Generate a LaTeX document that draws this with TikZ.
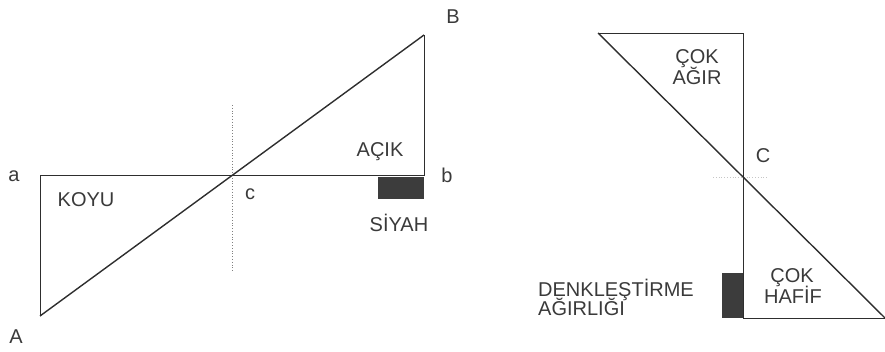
\documentclass[tikz,border=0pt]{standalone}
\usepackage{fontspec}
\setmainfont{Liberation Sans}
\definecolor{linec}{HTML}{2E2E2E}
\definecolor{textc}{HTML}{3A3A3A}
\definecolor{weightc}{HTML}{3C3C3C}
\begin{document}
\begin{tikzpicture}[x=1pt,y=-1pt,
  frame/.style={draw=linec, line width=0.9pt, line join=miter},
  beam/.style={draw=linec, line width=1.4pt},
  lbl/.style={font=\fontsize{20}{20}\selectfont, text=textc, inner sep=0pt, anchor=base},
  wt/.style={fill=weightc, draw=none},
  guide/.style={draw=gray, line width=0.8pt, dotted}]
\useasboundingbox (0,0) rectangle (885,352);
% ---------- left figure ----------
\coordinate (A) at (40,316);
\coordinate (a) at (40,175);
\coordinate (b) at (424,175);
\coordinate (B) at (424,35);
\coordinate (c) at (232.5,175);
\coordinate (gtop) at (232,105);
\coordinate (gbot) at (232,272);
\coordinate (s1) at (378,177);
\coordinate (s2) at (424,199);
\draw[guide] (gtop) -- (gbot);
\draw[frame] (A) -- (a) -- (b) -- (B);
\draw[beam] (A) -- (B);
\fill[wt] (s1) rectangle (s2);
\node[lbl] (la) at (14,182) {a};
\node[lbl] (lb) at (447,183) {b};
\node[lbl] (lA) at (16,343) {A};
\node[lbl] (lB) at (453,24) {B};
\node[lbl] (lc) at (250,200) {c};
\node[lbl] (koyu) at (86,207) {KOYU};
\node[lbl] (acik) at (380,157) {AÇIK};
\node[lbl] (siyah) at (399,232) {SİYAH};
% ---------- right figure ----------
\coordinate (P) at (598,33);
\coordinate (Q) at (743,33);
\coordinate (R) at (743,318);
\coordinate (S) at (885,318);
\coordinate (C) at (743,177);
\coordinate (h1) at (713,177);
\coordinate (h2) at (767,177);
\coordinate (d1) at (722,273);
\coordinate (d2) at (743,318);
\draw[guide, draw=gray!45] (h1) -- (h2);
\draw[frame] (P) -- (Q) -- (R) -- (S);
\draw[beam] (P) -- (S);
\fill[wt] (d1) rectangle (d2);
\node[lbl] (lC) at (763,163) {C};
\node[lbl] (cok1) at (697,64) {ÇOK};
\node[lbl] (agir) at (697,85) {AĞIR};
\node[lbl] (cok2) at (792,283) {ÇOK};
\node[lbl] (hafif) at (793,303) {HAFİF};
\node[lbl, anchor=base west] (denk) at (538,297) {DENKLEŞTİRME};
\node[lbl, anchor=base west] (agirligi) at (538,316) {AĞIRLIĞI};
\end{tikzpicture}
\end{document}
